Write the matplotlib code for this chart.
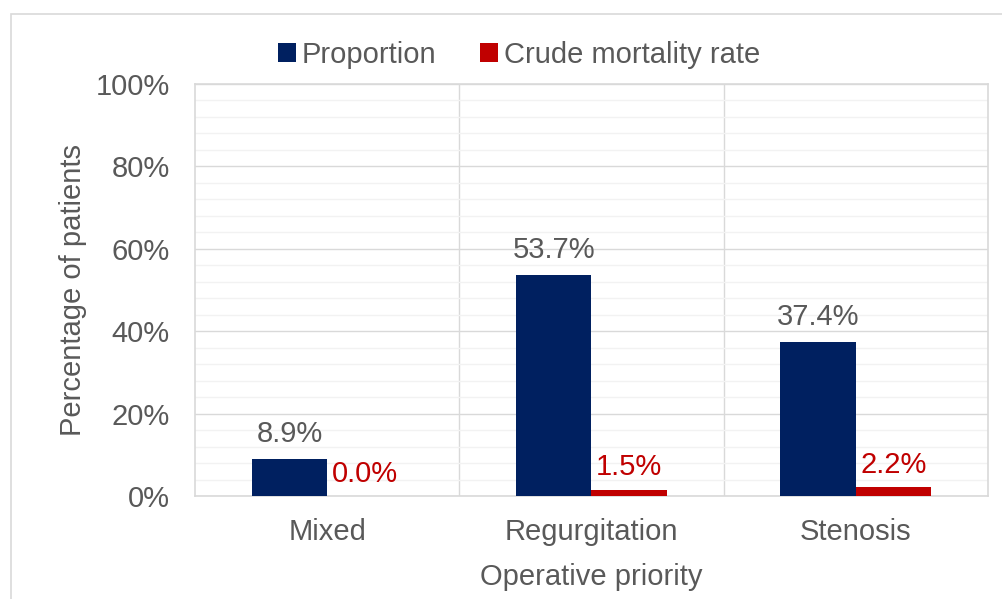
import matplotlib.pyplot as plt
import numpy as np
from matplotlib.patches import Rectangle

categorias = ['Mixed', 'Regurgitation', 'Stenosis']
proporcion = [8.9, 53.7, 37.4]
mortalidad = [0.0, 1.5, 2.2]
etiquetas_y = ['0%', '20%', '40%', '60%', '80%', '100%']

plt.rcParams['font.family'] = ['Liberation Sans', 'DejaVu Sans']
gris = '#595959'
azul = '#002060'
rojo = '#C00000'
fs = 21

fig = plt.figure(figsize=(10.03, 5.99), dpi=100)
# marco exterior del gráfico
fig.patches.append(Rectangle((11 / 1003, -0.01), 1.1, 1 - 14 / 599 + 0.01,
                             transform=fig.transFigure, fill=False,
                             edgecolor='#D9D9D9', linewidth=1.2))
ax = fig.add_axes([195 / 1003, 1 - 496 / 599, 793 / 1003, 412 / 599])

x = np.arange(len(categorias))
ancho = 0.285
b1 = ax.bar(x - ancho / 2, proporcion, ancho, color=azul, label='Proportion', zorder=3)
b2 = ax.bar(x + ancho / 2, mortalidad, ancho, color=rojo, label='Crude mortality rate', zorder=3)

for bar, v in zip(b1, proporcion):
    ax.annotate(f'{v:.1f}%', (bar.get_x() + bar.get_width() / 2, v),
                xytext=(0, 8), textcoords='offset points',
                ha='center', va='bottom', fontsize=fs, color=gris)
for bar, v in zip(b2, mortalidad):
    ax.annotate(f'{v:.1f}%', (bar.get_x() + bar.get_width() / 2, v),
                xytext=(0, 6), textcoords='offset points',
                ha='center', va='bottom', fontsize=fs, color=rojo)

ax.set_xlim(-0.5, len(categorias) - 0.5)
ax.set_ylim(0, 100)
ax.set_yticks(np.arange(0, 101, 20))
ax.set_yticklabels(etiquetas_y)
ax.set_yticks(np.arange(0, 101, 4), minor=True)
ax.set_xticks(x)
ax.set_xticklabels(categorias)
ax.tick_params(axis='both', which='both', length=0, labelsize=fs, colors=gris)
ax.tick_params(axis='y', pad=18)
ax.tick_params(axis='x', pad=16)

ax.grid(axis='y', which='minor', color='#F2F2F2', linewidth=1, zorder=0)
ax.grid(axis='y', which='major', color='#D9D9D9', linewidth=1, zorder=0)
for sep in x[:-1] + 0.5:
    ax.axvline(sep, color='#D9D9D9', linewidth=1, zorder=1)
for s in ax.spines.values():
    s.set_color('#D9D9D9')
    s.set_linewidth(1.2)

ax.set_ylabel('Percentage of patients', fontsize=fs, color=gris, labelpad=6)
ax.set_xlabel('Operative priority', fontsize=fs, color=gris, labelpad=12)

fig.legend(loc='center', bbox_to_anchor=(519 / 1003, 1 - 55 / 599), ncol=2,
           frameon=False, fontsize=21, handlelength=0.62, handleheight=0.62,
           handletextpad=0.2, columnspacing=1.5, labelcolor=gris)

fig.savefig('out.png', dpi=100)
